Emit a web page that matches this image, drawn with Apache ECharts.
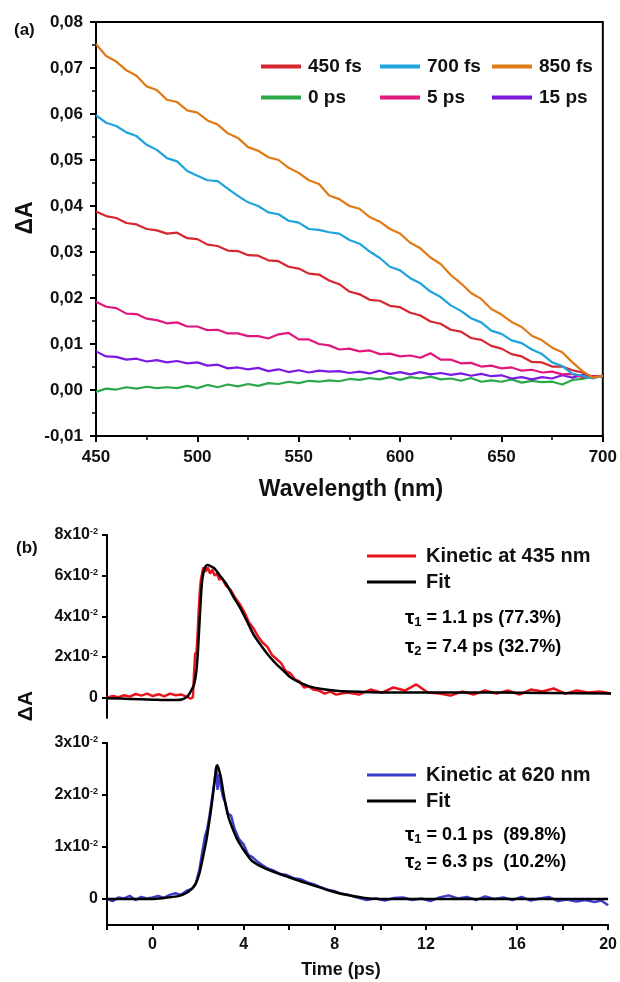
<!DOCTYPE html>
<html>
<head>
<meta charset="utf-8">
<script src="https://cdn.jsdelivr.net/npm/echarts@6.0.0/dist/echarts.min.js"></script>
<style>html,body{margin:0;padding:0;background:#fff}#c{width:620px;height:982px}</style>
</head>
<body>
<div id="c"></div>
<script>
// ---------- DATA: panel (a) transient spectra ----------
const wavelengths = [450,455,460,465,470,475,480,485,490,495,500,505,510,515,520,525,530,535,540,545,550,555,560,565,570,575,580,585,590,595,600,605,610,615,620,625,630,635,640,645,650,655,660,665,670,675,680,685,690,695,700];
const spec450fs = [.0388,.0378,.0374,.0363,.0360,.0350,.0347,.0340,.0342,.0330,.0328,.0316,.0313,.0303,.0302,.0293,.0292,.0282,.0280,.0268,.0264,.0253,.0251,.0238,.0230,.0214,.0208,.0196,.0194,.0183,.0180,.0168,.0162,.0149,.0144,.0131,.0127,.0113,.0109,.0096,.0090,.0078,.0073,.0061,.0060,.0051,.0051,.0043,.0038,.0028,.0031];
const spec700fs = [.0597,.0581,.0574,.0560,.0552,.0533,.0522,.0504,.0497,.0476,.0466,.0456,.0454,.0438,.0422,.0408,.0400,.0386,.0382,.0368,.0364,.0350,.0348,.0343,.0340,.0326,.0318,.0301,.0287,.0268,.0260,.0243,.0232,.0214,.0202,.0184,.0172,.0156,.0147,.0129,.0122,.0108,.0102,.0088,.0078,.0060,.0052,.0035,.0031,.0025,.0031];
const spec850fs = [.0752,.0726,.0714,.0695,.0683,.0660,.0652,.0631,.0626,.0608,.0603,.0586,.0577,.0558,.0548,.0528,.0520,.0506,.0500,.0483,.0472,.0456,.0448,.0423,.0415,.0400,.0394,.0376,.0366,.0350,.0340,.0320,.0308,.0288,.0274,.0250,.0232,.0211,.0198,.0176,.0164,.0148,.0137,.0118,.0108,.0092,.0082,.0060,.0041,.0027,.0031];
const spec0ps = [-.0004,.0003,.0001,.0006,.0003,.0007,.0004,.0006,.0004,.0009,.0004,.0011,.0006,.0012,.0008,.0013,.0009,.0015,.0013,.0018,.0015,.0020,.0018,.0021,.0019,.0024,.0022,.0026,.0023,.0028,.0022,.0028,.0025,.0029,.0023,.0025,.0020,.0026,.0018,.0021,.0018,.0023,.0016,.0020,.0017,.0018,.0012,.0022,.0024,.0029,.0030];
const spec5ps = [.0192,.0181,.0178,.0166,.0165,.0155,.0152,.0145,.0147,.0138,.0138,.0130,.0131,.0123,.0123,.0117,.0117,.0112,.0121,.0124,.0110,.0110,.0100,.0097,.0088,.0090,.0084,.0086,.0078,.0079,.0073,.0075,.0070,.0080,.0066,.0066,.0058,.0059,.0051,.0053,.0047,.0049,.0042,.0044,.0038,.0040,.0034,.0035,.0028,.0030,.0029];
const spec15ps = [.0084,.0073,.0072,.0066,.0068,.0062,.0065,.0060,.0063,.0058,.0060,.0053,.0055,.0047,.0049,.0045,.0048,.0041,.0045,.0039,.0043,.0038,.0042,.0040,.0041,.0037,.0040,.0036,.0042,.0035,.0039,.0034,.0039,.0034,.0037,.0033,.0036,.0031,.0035,.0030,.0032,.0025,.0028,.0023,.0028,.0025,.0032,.0027,.0033,.0029,.0031];
const specNames = ['450 fs','700 fs','850 fs','0 ps','5 ps','15 ps'];

// ---------- DATA: panel (b) kinetics ----------
const kin435T = [-2,-1.75,-1.5,-1.25,-1,-0.75,-0.5,-0.25,0,0.25,0.5,0.75,1,1.25,1.5,1.65,1.75,1.8,1.85,1.9,1.95,2,2.05,2.1,2.2,2.3,2.4,2.5,2.6,2.7,2.8,2.9,3,3.2,3.4,3.6,3.8,4,4.2,4.4,4.6,4.8,5,5.2,5.4,5.6,5.8,6,6.2,6.4,6.6,6.8,7,7.25,7.5,7.75,8,8.5,9,9.5,10,10.5,11,11.5,12,12.5,13,13.5,14,14.5,15,15.5,16,16.5,17,17.5,18,18.5,19,19.5,20];
const kin435V = [0,0.0008,0.0002,0.0012,0.0005,0.0018,0.0010,0.0020,0.0008,0.0017,0.0006,0.0020,0.0012,0.0015,0.0004,-0.0005,0.0002,0.012,0.022,0.021,0.030,0.042,0.052,0.058,0.064,0.062,0.064,0.061,0.063,0.060,0.061,0.058,0.059,0.055,0.053,0.049,0.046,0.042,0.037,0.034,0.030,0.027,0.025,0.021,0.019,0.017,0.013,0.012,0.009,0.008,0.005,0.0055,0.004,0.0035,0.002,0.003,0.0015,0.0025,0.0015,0.004,0.0025,0.005,0.0035,0.0065,0.0025,0.002,0.001,0.003,0.0015,0.0035,0.002,0.0035,0.0015,0.004,0.003,0.0045,0.002,0.0035,0.0025,0.003,0.002];
const fit435T = [-2,-1,0,0.5,1,1.3,1.5,1.6,1.7,1.8,1.9,1.97,2.05,2.14,2.22,2.3,2.4,2.5,2.7,2.9,3.2,3.5,3.8,4.1,4.4,4.7,5,5.35,5.7,6,6.4,6.8,7.3,8,8.6,9.5,10.8,15,20];
const fit435V = [-0.0003,-0.0006,-0.0010,-0.0012,-0.0012,-0.0008,0.0005,0.002,0.004,0.0065,0.013,0.023,0.0395,0.056,0.062,0.0645,0.0652,0.0648,0.0635,0.0605,0.056,0.050,0.0444,0.0378,0.031,0.026,0.0215,0.017,0.0133,0.010,0.0075,0.0057,0.0044,0.0034,0.003,0.0027,0.0025,0.0025,0.002];
const kin620T = [-2,-1.75,-1.5,-1.25,-1,-0.75,-0.5,-0.25,0,0.25,0.5,0.75,1,1.25,1.5,1.75,1.9,2.05,2.2,2.3,2.4,2.5,2.6,2.7,2.8,2.85,2.9,3,3.1,3.2,3.3,3.45,3.6,3.8,4,4.2,4.4,4.6,4.8,5,5.3,5.6,5.9,6.2,6.5,6.8,7.1,7.4,7.7,8,8.3,8.6,9,9.4,9.8,10.2,10.6,11,11.4,11.8,12.2,12.6,13,13.4,13.8,14.2,14.6,15,15.4,15.8,16.2,16.6,17,17.4,17.8,18.2,18.6,19,19.4,19.7,20];
const kin620V = [0,-0.0004,0.0003,0.0001,0.0006,-0.0002,0.0004,0.0001,0.0003,0.0006,0.0002,0.0008,0.0011,0.0008,0.0016,0.0020,0.0030,0.0055,0.0095,0.0120,0.0135,0.016,0.019,0.022,0.0255,0.021,0.024,0.0215,0.0195,0.0185,0.0165,0.0160,0.0135,0.0115,0.0105,0.0085,0.0080,0.0072,0.0066,0.0060,0.0055,0.0048,0.0046,0.0040,0.0038,0.0032,0.0028,0.0022,0.0018,0.0015,0.0010,0.0008,0.0003,-0.0002,0.0001,-0.0003,0.0002,0.0003,-0.0002,0.0001,-0.0004,0.0003,0.0007,0.0001,0.0004,-0.0002,0.0005,0,0.0003,-0.0002,0.0004,-0.0003,0.0001,0.0004,-0.0004,-0.0001,-0.0005,-0.0002,-0.0006,-0.0003,-0.0012];
const fit620T = [-2,0,0.5,1.18,1.5,1.75,1.9,2.05,2.2,2.36,2.47,2.58,2.7,2.8,2.84,2.92,3,3.1,3.23,3.35,3.5,3.7,3.93,4.15,4.37,4.65,4.98,5.4,5.85,6.3,6.72,7.3,7.86,8.5,9.3,10,20];
const fit620V = [0,0,0.0002,0.0006,0.0012,0.0021,0.003,0.0048,0.0078,0.0112,0.0143,0.0176,0.0218,0.0253,0.0257,0.0248,0.0234,0.0207,0.0176,0.0155,0.0137,0.0116,0.0099,0.0085,0.0073,0.0065,0.0058,0.0051,0.0044,0.0037,0.0031,0.0023,0.0015,0.0008,0.0002,0,0];
const yTicksB1 = [0,0.02,0.04,0.06,0.08];
const yTicksB2 = [0,0.01,0.02,0.03];

// ---------- CHART ----------
const F = '"Liberation Sans", Arial, sans-serif';
const chart = echarts.init(document.getElementById('c'), null, {renderer:'canvas', width:620, height:982});
const pairs = (xs, ys) => xs.map((x,i)=>[x, ys[i]]);
const specColors = ['#d6262e','#1ea3dc','#e07a14','#2ba84a','#e2177c','#7a1ae0'];
const specData = [spec450fs, spec700fs, spec850fs, spec0ps, spec5ps, spec15ps];

const series = [];
[3,5,4,0,1,2].forEach(i=>{
  series.push({type:'line', name:specNames[i], xAxisIndex:0, yAxisIndex:0, data:pairs(wavelengths, specData[i]),
    symbol:'none', lineStyle:{width:2.2, color:specColors[i]}, itemStyle:{color:specColors[i]}, animation:false});
});
series.push({type:'line', name:'Kinetic at 435 nm', xAxisIndex:1, yAxisIndex:1, data:pairs(kin435T, kin435V),
  symbol:'none', lineStyle:{width:2.5, color:'#e8141c'}, itemStyle:{color:'#e8141c'}, animation:false});
series.push({type:'line', name:'Fit', xAxisIndex:1, yAxisIndex:1, data:pairs(fit435T, fit435V), smooth:0.3,
  symbol:'none', lineStyle:{width:2.5, color:'#000'}, itemStyle:{color:'#000'}, animation:false});
series.push({type:'line', name:'Kinetic at 620 nm', xAxisIndex:2, yAxisIndex:2, data:pairs(kin620T, kin620V),
  symbol:'none', lineStyle:{width:2.5, color:'#3d3dcc'}, itemStyle:{color:'#3d3dcc'}, animation:false});
series.push({type:'line', name:'Fit ', xAxisIndex:2, yAxisIndex:2, data:pairs(fit620T, fit620V), smooth:0.3,
  symbol:'none', lineStyle:{width:2.5, color:'#000'}, itemStyle:{color:'#000'}, animation:false});

function leg(name, left, top, fs, iw, ih, pad){
  return {data:[name], left:left, top:top, orient:'horizontal', itemWidth:iw, itemHeight:ih, icon:'rect',
    selectedMode:false, padding:0, itemGap:0,
    textStyle:{fontFamily:F, fontWeight:'bold', fontSize:fs, color:'#111', padding:[0,0,0,pad], lineHeight:fs+2}};
}
const legends = [
  leg('450 fs',261,56,19,40,4,2), leg('700 fs',380,56,19,40,4,2), leg('850 fs',492,56,19,40,4,2),
  leg('0 ps',261,87,19,40,4,2), leg('5 ps',380,87,19,40,4,2), leg('15 ps',492,87,19,40,4,2),
  leg('Kinetic at 435 nm',367,545,20,49,3,5), leg('Fit',367,571,20,49,3,5),
  leg('Kinetic at 620 nm',367,764,20,49,3,5), leg('Fit ',367,790,20,49,3,5)
];

const axLine = {show:true, onZero:false, lineStyle:{color:'#000', width:2}};
const axTick = {show:true, inside:false, length:6, lineStyle:{color:'#000', width:2}};
const lblStyle = {fontFamily:F, fontWeight:'bold', color:'#111'};

const supRich = {
  m:{fontFamily:F, fontWeight:'bold', fontSize:16, color:'#111'},
  s:{fontFamily:F, fontWeight:'bold', fontSize:9, color:'#111', verticalAlign:'top'}
};
const sciFmt = v => { if (Math.abs(v) < 1e-9) return '{m|0}'; return '{m|' + Math.round(v*100) + 'x10}{s|-2}'; };

function tauText(x, y, idx, rest){
  return {type:'text', x:x, y:y, style:{text:'{t|τ}{sub|'+idx+'}{n|'+rest+'}', verticalAlign:'middle', align:'left',
    rich:{ t:{fontFamily:F, fontWeight:'bold', fontSize:21, color:'#111'},
           sub:{fontFamily:F, fontWeight:'bold', fontSize:13, color:'#111', verticalAlign:'bottom'},
           n:{fontFamily:F, fontWeight:'bold', fontSize:18, color:'#111'} }}};
}

const option = {
  backgroundColor:'#fff',
  animation:false,
  legend: legends,
  grid:[
    {left:96, top:22, width:510, height:414, show:true, borderColor:'#000', borderWidth:2, backgroundColor:'transparent'},
    {left:107, top:535, width:504, height:183},
    {left:107, top:743, width:504, height:182}
  ],
  xAxis:[
    {type:'value', gridIndex:0, min:450, max:700, interval:50, axisLine:axLine, axisTick:axTick,
     minorTick:{show:true, splitNumber:2, length:4, lineStyle:{color:'#000', width:1.5}}, splitLine:{show:false},
     axisLabel:Object.assign({fontSize:17, margin:13}, lblStyle)},
    {type:'value', gridIndex:1, min:-2, max:20, show:false, splitLine:{show:false}},
    {type:'value', gridIndex:2, min:-2, max:20, interval:2, axisLine:axLine, axisTick:Object.assign({}, axTick, {length:5}),
     splitLine:{show:false},
     axisLabel:Object.assign({fontSize:16, margin:12, formatter:v => (Math.round(v)%4===0 ? String(Math.round(v)) : '')}, lblStyle)}
  ],
  yAxis:[
    {type:'value', gridIndex:0, min:-0.01, max:0.08, interval:0.01, axisLine:axLine, axisTick:axTick,
     minorTick:{show:true, splitNumber:2, length:4, lineStyle:{color:'#000', width:1.5}}, splitLine:{show:false},
     axisLabel:Object.assign({fontSize:17, margin:13, formatter:v => (Math.abs(v)<1e-9 ? '0,00' : v.toFixed(2).replace('.', ','))}, lblStyle)},
    {type:'value', gridIndex:1, min:-0.01, max:0.08, axisLine:axLine,
     axisTick:Object.assign({}, axTick, {length:5, customValues:yTicksB1}), splitLine:{show:false},
     axisLabel:{customValues:yTicksB1, margin:9, formatter:sciFmt, rich:supRich}},
    {type:'value', gridIndex:2, min:-0.005, max:0.03, axisLine:axLine,
     axisTick:Object.assign({}, axTick, {length:5, customValues:yTicksB2}), splitLine:{show:false},
     axisLabel:{customValues:yTicksB2, margin:9, formatter:sciFmt, rich:supRich}}
  ],
  graphic:[
    {type:'text', x:14, y:30, style:{text:'(a)', font:'bold 17px '+F, fill:'#111', verticalAlign:'middle'}},
    {type:'text', x:16, y:548, style:{text:'(b)', font:'bold 17px '+F, fill:'#111', verticalAlign:'middle'}},
    {type:'text', x:26, y:218, rotation:Math.PI/2, style:{text:'ΔA', font:'bold 23px '+F, fill:'#111', align:'center', verticalAlign:'middle'}},
    {type:'text', x:26, y:706, rotation:Math.PI/2, style:{text:'ΔA', font:'bold 21px '+F, fill:'#111', align:'center', verticalAlign:'middle'}},
    {type:'text', x:351, y:490, style:{text:'Wavelength (nm)', font:'bold 23px '+F, fill:'#111', align:'center', verticalAlign:'middle'}},
    {type:'text', x:341, y:970, style:{text:'Time (ps)', font:'bold 18px '+F, fill:'#111', align:'center', verticalAlign:'middle'}},
    tauText(405, 618, '1', ' = 1.1 ps (77.3%)'),
    tauText(405, 647, '2', ' = 7.4 ps (32.7%)'),
    tauText(405, 835, '1', ' = 0.1 ps  (89.8%)'),
    tauText(405, 862, '2', ' = 6.3 ps  (10.2%)')
  ],
  series: series
};
chart.setOption(option);
</script>
</body>
</html>
